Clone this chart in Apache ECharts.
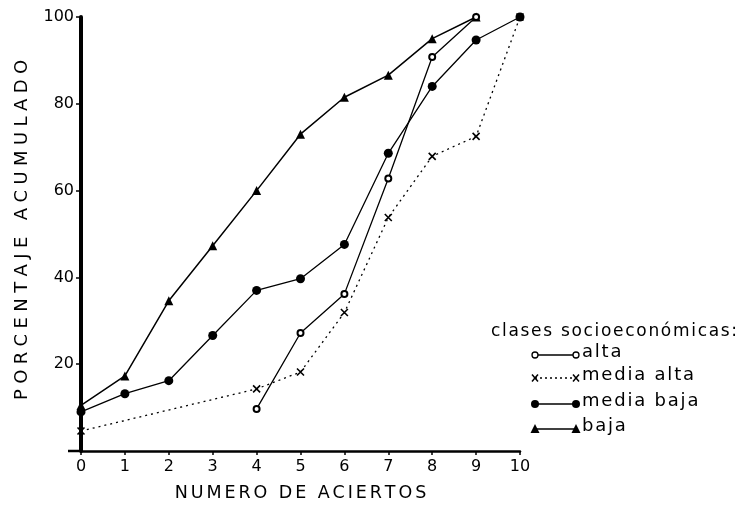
<!DOCTYPE html>
<html><head><meta charset="utf-8">
<script src="https://cdn.jsdelivr.net/npm/echarts@6/dist/echarts.min.js"></script>
<style>html,body{margin:0;padding:0;background:#fff}#c{width:749px;height:510px}</style>
</head><body><div id="c"></div>
<script>
// Data (x = número de aciertos, y = porcentaje acumulado)
const xTicks = [0,1,2,3,4,5,6,7,8,9,10];
const yTicks = [0,20,40,60,80,100];
const altaX = [4,5,6,7,8,9];
const altaY = [9.7,27.2,36.2,62.8,90.8,100];
const mediaAltaX = [0,4,5,6,7,8,9,10];
const mediaAltaY = [4.6,14.3,18.2,31.9,53.8,67.9,72.5,100];
const mediaBajaX = [0,1,2,3,4,5,6,7,8,9,10];
const mediaBajaY = [9,13.2,16.2,26.6,37,39.7,47.6,68.6,84,94.7,100];
const bajaX = [0,1,2,3,4,5,6,7,8,9];
const bajaY = [10.5,17.3,34.6,47.3,60,73,81.5,86.6,95,100];
const seriesNames = ['alta','media alta','media baja','baja'];
const legendTitle = 'clases socioeconómicas:';
const xName = 'NUMERO DE ACIERTOS';
const yName = 'PORCENTAJE ACUMULADO';

const pairs = (xs, ys) => xs.map((x,i)=>[x, ys[i]]);
const spaced = (s, sp) => s.split('').join(sp);
const FONT = 'DejaVu Sans';
const crossPath = 'path://M0,0L10,10M10,0L0,10';

const chart = echarts.init(document.getElementById('c'), null, {renderer:'canvas'});

// legend drawn as graphic (two markers joined by a line, as in the original)
const lgX1 = 535, lgX2 = 576, lgTx = 582;
const lgRows = [355, 378, 404, 429];
const HS = '\u200A';
const graphics = [{type:'text', left:491, top:323, style:{text:spaced(legendTitle,HS), font:'17px "'+FONT+'"', fill:'#000'}}];
function markerG(kind, cx, cy){
  if(kind==='open') return {type:'circle', shape:{cx,cy,r:3}, style:{fill:'#fff', stroke:'#000', lineWidth:1.3}};
  if(kind==='dot') return {type:'circle', shape:{cx,cy,r:4}, style:{fill:'#000'}};
  if(kind==='tri') return {type:'polygon', shape:{points:[[cx,cy-5],[cx-4.5,cy+4],[cx+4.5,cy+4]]}, style:{fill:'#000'}};
  return {type:'group', children:[
    {type:'line', shape:{x1:cx-3,y1:cy-3.5,x2:cx+3,y2:cy+3.5}, style:{stroke:'#000', lineWidth:1.5}},
    {type:'line', shape:{x1:cx+3,y1:cy-3.5,x2:cx-3,y2:cy+3.5}, style:{stroke:'#000', lineWidth:1.5}}]};
}
const kinds = ['open','cross','dot','tri'];
kinds.forEach((k,i)=>{
  const y = lgRows[i];
  graphics.push({type:'line', shape:{x1:lgX1,y1:y,x2:lgX2,y2:y}, style:{stroke:'#000', lineWidth:1.3, lineDash: k==='cross'?[2,3]:null}});
  graphics.push(markerG(k,lgX1,y));
  graphics.push(markerG(k,lgX2,y));
  graphics.push({type:'text', left:lgTx, top:y-12, style:{text:spaced(seriesNames[i],HS), font:'18px "'+FONT+'"', fill:'#000'}});
});
// x axis line continues a little to the left of the y axis, as in the original
graphics.push({type:'line', shape:{x1:68,y1:451,x2:81,y2:451}, style:{stroke:'#000', lineWidth:2.5}});

chart.setOption({
  backgroundColor:'#fff',
  animation:false,
  grid:{left:81, right:229, top:17, bottom:59, containLabel:false},
  xAxis:{type:'value', min:0, max:10, interval:1,
    name:spaced(xName,'\u2006'), nameLocation:'middle', nameGap:33,
    nameTextStyle:{fontFamily:FONT, fontSize:17.5, color:'#000'},
    axisLine:{lineStyle:{color:'#000', width:2.5}},
    axisTick:{show:true, length:4, lineStyle:{color:'#000', width:1.5}},
    axisLabel:{fontFamily:FONT, fontSize:16, color:'#000', margin:8,
      formatter:v=> xTicks.includes(v)? String(v):''},
    splitLine:{show:false}},
  yAxis:{type:'value', min:0, max:100, interval:20,
    name:spaced(yName,'\u2009\u200A'), nameLocation:'middle', nameGap:50, nameRotate:90,
    nameTextStyle:{fontFamily:FONT, fontSize:18, color:'#000', padding:[0,0,0,8]},
    axisLine:{show:true, lineStyle:{color:'#000', width:4}},
    axisTick:{show:true, length:5, lineStyle:{color:'#000', width:1.5}},
    axisLabel:{fontFamily:FONT, fontSize:16, color:'#000', margin:7,
      formatter:v=> (v===0 || !yTicks.includes(v))? '' : String(v)},
    splitLine:{show:false}},
  graphic:graphics,
  series:[
    {name:seriesNames[0], type:'line', data:pairs(altaX,altaY), symbol:'emptyCircle', symbolSize:6,
      lineStyle:{color:'#000', width:1.3}, itemStyle:{color:'#000', borderColor:'#000', borderWidth:1.3}, z:4},
    {name:seriesNames[1], type:'line', data:pairs(mediaAltaX,mediaAltaY), symbol:crossPath, symbolSize:7,
      lineStyle:{color:'#000', width:1.3, type:[2,4]}, itemStyle:{color:'#000', borderColor:'#000', borderWidth:1.6}, z:3},
    {name:seriesNames[2], type:'line', data:pairs(mediaBajaX,mediaBajaY), symbol:'circle', symbolSize:9,
      lineStyle:{color:'#000', width:1.3}, itemStyle:{color:'#000'}, z:3},
    {name:seriesNames[3], type:'line', data:pairs(bajaX,bajaY), symbol:'triangle', symbolSize:9,
      lineStyle:{color:'#000', width:1.5}, itemStyle:{color:'#000'}, z:3}
  ]
});
</script></body></html>
